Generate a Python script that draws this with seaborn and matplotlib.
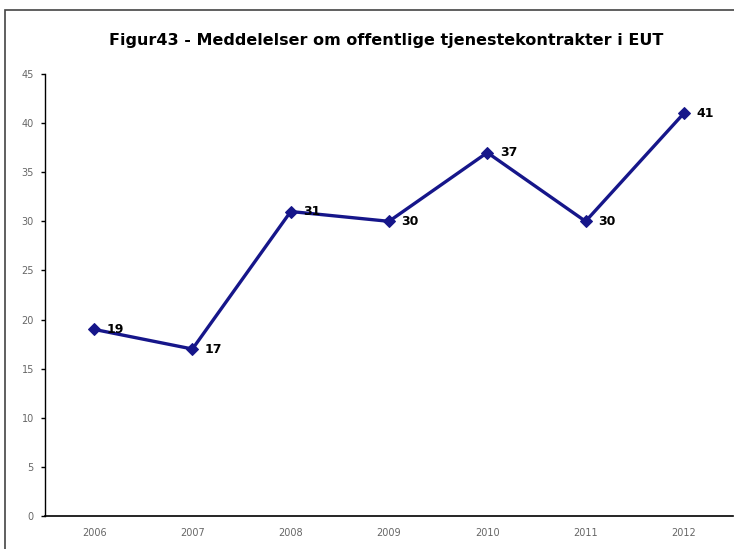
import matplotlib
matplotlib.use("Agg")
import matplotlib.pyplot as plt
import seaborn as sns
import pandas as pd
from matplotlib.patches import Rectangle

# data
years = ["2006", "2007", "2008", "2009", "2010", "2011", "2012"]
counts = [19, 17, 31, 30, 37, 30, 41]
title = "Figur43 - Meddelelser om offentlige tjenestekontrakter i EUT"

df = pd.DataFrame({"year": years, "count": counts})

sns.set_theme(style="white")
plt.rcParams["font.family"] = ["Verdana", "DejaVu Sans"]

fig = plt.figure(figsize=(7.34, 5.49), dpi=100)
ax = fig.add_axes([45 / 734, 1 - 516 / 549, 688 / 734, (516 - 74) / 549])

line_col = "#16168a"
sns.lineplot(data=df, x="year", y="count", ax=ax, color=line_col, linewidth=2.4,
             marker="D", markersize=6, markeredgecolor=line_col, sort=False)

for i, v in enumerate(counts):
    ax.annotate(str(v), (i, v), xytext=(9, 0), textcoords="offset points",
                ha="left", va="center", fontsize=9, fontweight="bold", color="black")

ax.set_xlim(-0.5, len(years) - 0.5)
ax.set_ylim(0, 45)
ax.set_yticks(range(0, 46, 5))
ax.set_xticks(range(len(years)))
ax.set_xticklabels(years)
ax.set_xticks([i - 0.5 for i in range(len(years) + 1)], minor=True)
ax.tick_params(axis="x", which="major", length=0, pad=9, labelsize=7, labelcolor="#666666")
ax.tick_params(axis="x", which="minor", length=4, width=1, direction="out", color="black")
ax.tick_params(axis="y", length=3, width=1, direction="out", color="black", labelsize=7,
               labelcolor="#666666", left=True, pad=5)
ax.set_xlabel("")
ax.set_ylabel("")
for s in ["top", "right"]:
    ax.spines[s].set_visible(False)
ax.spines["left"].set_color("black")
ax.spines["bottom"].set_color("black")
ax.spines["left"].set_linewidth(1)
ax.spines["bottom"].set_linewidth(1.2)

fig.text(386 / 734, 1 - 40 / 549, title, ha="center", va="center",
         fontsize=11.5, fontweight="bold", color="black")

# chart area border like the excel frame
fig.patches.append(Rectangle((5 / 734, -0.1), 1.2, 1 - 10 / 549 + 0.1,
                             transform=fig.transFigure, fill=False,
                             edgecolor="#444444", linewidth=1.2))

fig.savefig("out.png", dpi=100)
